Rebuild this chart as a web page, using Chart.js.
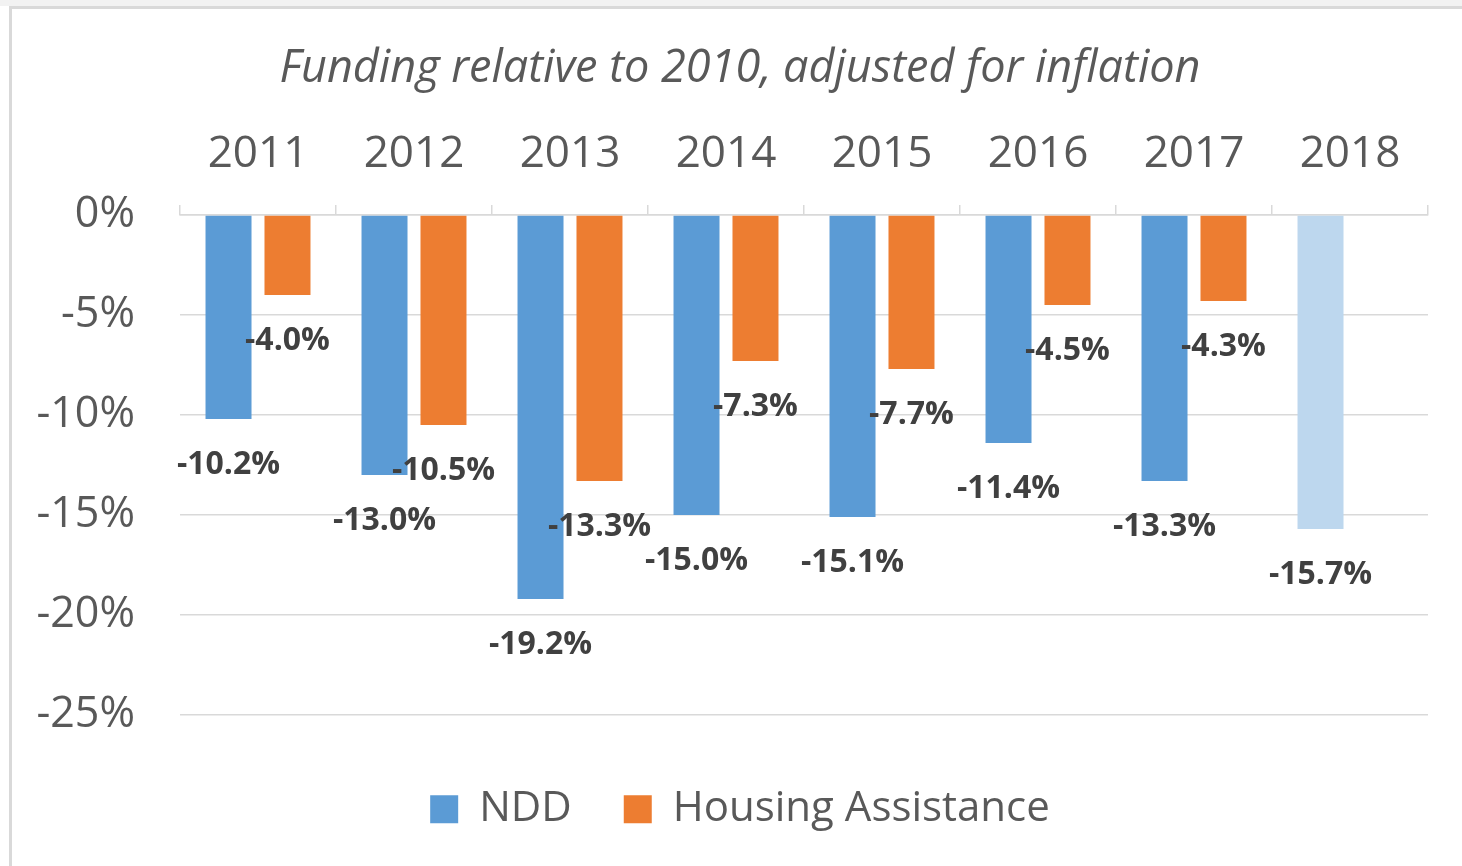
<!DOCTYPE html>
<html>
<head>
<meta charset="utf-8">
<script src="https://cdn.jsdelivr.net/npm/chart.js@4/dist/chart.umd.min.js"></script>
<style>
  html, body { margin: 0; padding: 0; background: #ffffff; width: 1462px; height: 866px; overflow: hidden; }
  #strip { position: absolute; left: 0; top: 0; width: 1462px; height: 6px; background: #f2f2f2; }
  #frame { position: absolute; left: 9px; top: 6px; width: 1500px; height: 900px; border-left: 3px solid #d9d9d9; border-top: 3px solid #d9d9d9; }
  #wrap { position: absolute; left: 0; top: 0; width: 1462px; height: 866px; }
</style>
</head>
<body>
<div id="strip"></div>
<div id="frame"></div>
<div id="wrap"><canvas id="c" width="1462" height="866"></canvas></div>
<script>
const titleText = 'Funding relative to 2010, adjusted for inflation';
const categories = ['2011', '2012', '2013', '2014', '2015', '2016', '2017', '2018'];
const seriesNames = ['NDD', 'Housing Assistance'];
const nddValues = [-10.2, -13.0, -19.2, -15.0, -15.1, -11.4, -13.3, -15.7];
const housingValues = [-4.0, -10.5, -13.3, -7.3, -7.7, -4.5, -4.3, null];
const yTicks = [0, -5, -10, -15, -20, -25];

const BLUE = '#5B9BD5', ORANGE = '#ED7D31', LIGHT_BLUE = '#BDD7EE';
const FONT = "'Open Sans', 'DejaVu Sans', sans-serif";

const dataLabels = {
  id: 'dataLabels',
  afterDatasetsDraw(chart) {
    const ctx = chart.ctx;
    ctx.save();
    ctx.font = 'bold 32px ' + FONT;
    ctx.fillStyle = '#404040';
    ctx.textAlign = 'center';
    ctx.textBaseline = 'middle';
    chart.data.datasets.forEach((ds, di) => {
      const meta = chart.getDatasetMeta(di);
      meta.data.forEach((bar, i) => {
        const v = ds.data[i];
        if (v === null || v === undefined) return;
        ctx.fillText(v.toFixed(1) + '%', bar.x, bar.y + 46);
      });
    });
    ctx.restore();
  }
};

new Chart(document.getElementById('c'), {
  type: 'bar',
  data: {
    labels: categories,
    datasets: [
      {
        label: seriesNames[0],
        data: nddValues,
        backgroundColor: (c) => (c.type === 'data' && c.dataIndex === categories.length - 1) ? LIGHT_BLUE : BLUE,
        categoryPercentage: 0.756,
        barPercentage: 0.78
      },
      {
        label: seriesNames[1],
        data: housingValues,
        backgroundColor: ORANGE,
        categoryPercentage: 0.756,
        barPercentage: 0.78
      }
    ]
  },
  options: {
    responsive: false,
    animation: false,
    devicePixelRatio: 1,
    layout: { padding: { left: 20, right: 2, top: 0, bottom: 25.8 } },
    plugins: {
      tooltip: { enabled: false },
      title: {
        display: true,
        text: titleText,
        color: '#595959',
        font: { family: FONT, size: 45, style: 'italic', weight: 'normal' },
        padding: { top: 42, bottom: 0 }
      },
      legend: {
        position: 'bottom',
        title: { display: true, text: ' ', font: { size: 1 }, padding: { top: 20, bottom: 0 } },
        labels: {
          color: '#595959',
          font: { family: FONT, size: 42 },
          boxWidth: 28,
          boxHeight: 28,
          padding: 52
        }
      }
    },
    scales: {
      x: {
        position: 'top',
        grid: { offset: true, drawOnChartArea: false, drawTicks: true, tickLength: 10, color: '#d9d9d9', lineWidth: 1.5 },
        border: { display: true, color: '#d9d9d9', width: 1.5 },
        ticks: { color: '#595959', font: { family: FONT, size: 44 }, padding: 24, maxRotation: 0 },
        afterFit(scale) { scale.height = 215 - 96; }
      },
      y: {
        min: -25,
        max: 0,
        afterBuildTicks(scale) { scale.ticks = yTicks.map(v => ({ value: v })); },
        grid: { color: '#d9d9d9', lineWidth: 1.5, drawTicks: false },
        border: { display: false },
        ticks: {
          color: '#595959',
          font: { family: FONT, size: 43 },
          padding: 45,
          callback: (v) => v + '%'
        },
        afterFit(scale) { scale.width = 180 - 20; }
      },
      yRight: {
        position: 'right',
        display: true,
        min: -25,
        max: 0,
        grid: { drawOnChartArea: false, drawTicks: false },
        border: { display: false },
        ticks: { display: false },
        afterFit(scale) { scale.width = 1460 - 1428; }
      }
    }
  },
  plugins: [dataLabels]
});
</script>
</body>
</html>
